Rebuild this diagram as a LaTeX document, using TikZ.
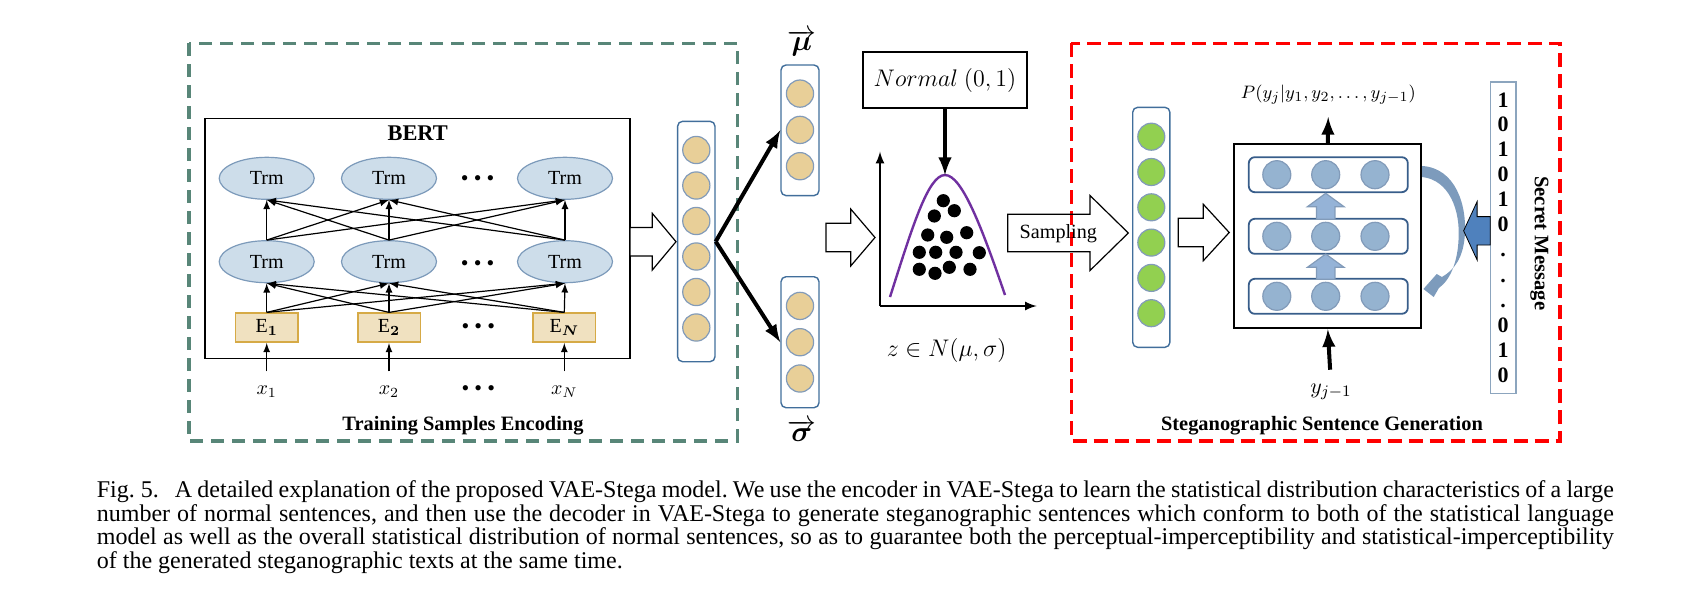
\documentclass[tikz,border=0pt]{standalone}
\usepackage{fontspec}
\setmainfont{Liberation Serif}
\usepackage{bm}
\usetikzlibrary{positioning,shapes.geometric}

\definecolor{encframe}{RGB}{88,134,120}
\definecolor{trmfill}{RGB}{205,221,234}
\definecolor{trmdraw}{RGB}{124,154,186}
\definecolor{efill}{RGB}{240,225,192}
\definecolor{edraw}{RGB}{214,170,70}
\definecolor{tanfill}{RGB}{232,207,152}
\definecolor{circdraw}{RGB}{130,155,185}
\definecolor{coldraw}{RGB}{65,110,155}
\definecolor{latfill}{RGB}{146,208,80}
\definecolor{decfill}{RGB}{149,179,208}
\definecolor{rowdraw}{RGB}{56,93,138}
\definecolor{upfill}{RGB}{149,179,215}
\definecolor{secblue}{RGB}{79,129,189}
\definecolor{bellpurple}{RGB}{112,48,160}
\definecolor{secdraw}{RGB}{140,165,190}
\definecolor{curvecol}{RGB}{125,155,188}

\newcommand{\blockarrow}[7][]{\draw[#1] (#2,#5-#6) -- (#3,#5-#6) -- (#3,#5-#7) -- (#4,#5) -- (#3,#5+#7) -- (#3,#5+#6) -- (#2,#5+#6) -- cycle;}

\begin{document}
\begin{tikzpicture}[x=0.5pt, y=-0.5pt, >=latex,
	every node/.style={inner sep=0pt},
	trm/.style={ellipse, draw=trmdraw, fill=trmfill, line width=0.6pt, minimum width=47.5pt, minimum height=21pt, font=\fontsize{10}{12}\selectfont},
	emb/.style={draw=edraw, fill=efill, line width=0.8pt, minimum width=31.3pt, minimum height=14.5pt, font=\fontsize{10}{12}\selectfont},
	colbox/.style={draw=coldraw, rounded corners=2.5pt, line width=0.7pt},
	neuron/.style={circle, draw=circdraw, line width=0.6pt, minimum size=13.6pt},
	layerrow/.style={draw=rowdraw, rounded corners=3pt, line width=0.9pt, minimum width=79.5pt, minimum height=17.5pt},
	ellip/.style={font=\fontsize{11}{12}\selectfont},
	thinarrow/.style={->, line width=0.6pt},
	thickarrow/.style={->, line width=2pt},
	blockarr/.style={draw=black, line width=0.6pt},
	caption title/.style={font=\bfseries\fontsize{10.2}{12}\selectfont},
	bit/.style={anchor=base, font=\bfseries\fontsize{11}{12}\selectfont}]

\useasboundingbox (0,0) rectangle (1681,605);

\draw[encframe, line width=1.6pt, dash pattern=on 6.5pt off 4pt] (189,43.3) rectangle (737.3,441);
\draw[red, line width=1.6pt, dash pattern=on 7pt off 3.5pt] (1071.4,43.3) rectangle (1560,441);

\node[draw, line width=0.8pt, minimum width=212.5pt, minimum height=120pt] (bert) at (417.5,238.3) {};
\node[font=\bfseries\fontsize{11.2}{13}\selectfont] (bertlabel) at (417.7,133.3) {BERT};
\node[trm] (t1) at (266.7,178.3) {Trm};
\node[trm] (t2) at (389,178.3) {Trm};
\node[trm] (t3) at (565,178.3) {Trm};
\node[trm] (b1) at (266.7,261.7) {Trm};
\node[trm] (b2) at (389,261.7) {Trm};
\node[trm] (b3) at (565,261.7) {Trm};
\node[emb] (e1) at (266.7,327.7) {E$_{\bm{1}}$};
\node[emb] (e2) at (389,327.7) {E$_{\bm{2}}$};
\node[emb] (e3) at (564.3,327.7) {E$_{\bm{N}}$};
\node[font=\fontsize{10}{12}\selectfont] (x1) at (266.7,391.7) {$x_1$};
\node[font=\fontsize{10}{12}\selectfont] (x2) at (389,391.7) {$x_2$};
\node[font=\fontsize{10}{12}\selectfont] (x3) at (564.3,391.7) {$x_N$};
\node[ellip] (dt) at (477.7,181) {\textbullet\hspace{2.6pt}\textbullet\hspace{2.6pt}\textbullet};
\node[ellip] (db) at (477.7,265.3) {\textbullet\hspace{2.6pt}\textbullet\hspace{2.6pt}\textbullet};
\node[ellip] (de) at (478.3,328.3) {\textbullet\hspace{2.6pt}\textbullet\hspace{2.6pt}\textbullet};
\node[ellip] (dx) at (478.3,391) {\textbullet\hspace{2.6pt}\textbullet\hspace{2.6pt}\textbullet};
\foreach \i in {1,2,3}{
	\draw[thinarrow, shorten <=7pt] (x\i.north) -- (e\i.south);
	\foreach \j in {1,2,3}{
		\draw[thinarrow] (e\i.north) -- (b\j.south);
		\draw[thinarrow] (b\i.north) -- (t\j.south);
	}
}
\node[caption title] (enctitle) at (463,426) {Training Samples Encoding};

\blockarrow[blockarr, fill=white]{630}{652.3}{676}{241.7}{14.2}{28.3}

\node[colbox, minimum width=18.7pt, minimum height=120.2pt] (enc) at (696.3,241.5) {};
\foreach \i in {1,...,6} \node[neuron, fill=tanfill] (enc\i) at (696.3,{150+35.5*(\i-1)}) {};

\node[colbox, minimum width=19pt, minimum height=65.3pt] (mucol) at (800,130.3) {};
\node[colbox, minimum width=19pt, minimum height=65.5pt] (sigcol) at (800,342.2) {};
\foreach \i in {1,2,3}{
	\node[neuron, fill=tanfill] (mu\i) at (800,{93.6+36.3*(\i-1)}) {};
	\node[neuron, fill=tanfill] (sig\i) at (800,{305.9+36.3*(\i-1)}) {};
}
\node[font=\fontsize{14}{16}\selectfont] (mulabel) at (801.7,43) {$\overrightarrow{\bm{\mu}}$};
\node[font=\fontsize{14}{16}\selectfont] (siglabel) at (801.7,431) {$\overrightarrow{\bm{\sigma}}$};
\draw[thickarrow] (enc.east) -- (mucol.west);
\draw[thickarrow] (enc.east) -- (sigcol.west);

\blockarrow[blockarr, fill=white]{826}{850.7}{875}{237.5}{14.2}{28.5}

\node[draw, line width=1pt, minimum width=81.7pt, minimum height=28.3pt, font=\fontsize{12}{14}\selectfont] (normal) at (945,80) {$Normal\ (0,1)$};
\coordinate (origin) at (880,306);
\coordinate (ytop) at (880,151.7);
\coordinate (xend) at (1036.7,306);
\coordinate (peak) at (945,175);
\draw[->, line width=1pt] (origin) -- (ytop);
\draw[->, line width=1pt] (origin) -- (xend);
\draw[bellpurple, line width=1.2pt] (890,297) .. controls (912,228) and (928,175) .. (peak) .. controls (962,175) and (982,228) .. (1005,295);
\foreach \px/\py in {943.3/200.7, 954.3/210.7, 934.3/216, 927.7/235, 946.7/237.3, 966.7/232.7, 919.3/252.3, 935.7/252.3, 956/252.3, 979.3/252.7, 919.3/269.3, 935/273.3, 949.3/267.3, 970/269.3}
	\fill (\px,\py) circle (3.3pt);
\draw[thickarrow] (normal.south) -- (peak);
\node[font=\fontsize{12.5}{14}\selectfont] (zlabel) at (946.7,350) {$z\in N(\mu,\sigma)$};

\blockarrow[blockarr]{1007.7}{1090}{1128.3}{233}{18.7}{37.5}
\node[font=\fontsize{10.1}{12}\selectfont] (sampling) at (1058.3,233.3) {Sampling};

\node[colbox, minimum width=18.6pt, minimum height=120pt] (lat) at (1151.3,227.3) {};
\foreach \i in {1,...,6} \node[neuron, fill=latfill, minimum size=13.5pt] (lat\i) at (1151.3,{136.7+35.3*(\i-1)}) {};

\blockarrow[blockarr, fill=white]{1178.2}{1203.3}{1229.2}{232.5}{14.2}{28.2}

\node[draw, line width=1pt, minimum width=93.4pt, minimum height=92pt] (dec) at (1327.8,236.3) {};
\node[layerrow] (r1) at (1328.3,174.7) {};
\node[layerrow] (r2) at (1328.3,236.3) {};
\node[layerrow] (r3) at (1328.3,296.3) {};
\foreach \r/\ry in {1/174.7, 2/236.3, 3/296.3}
	\foreach \c/\cx in {1/1276.8, 2/1325.7, 3/1375}
		\node[neuron, fill=decfill, minimum size=14pt] (h\r\c) at (\cx,\ry) {};
\foreach \yb/\yh/\yt in {279.3/267.3/254, 219.3/206.7/193.3}
	\draw[fill=upfill, draw=circdraw, line width=0.6pt] (1316.5,\yb) -- (1316.5,\yh) -- (1307.4,\yh) -- (1325.7,\yt) -- (1344,\yh) -- (1334.9,\yh) -- (1334.9,\yb) -- cycle;
\node[font=\fontsize{9.5}{12}\selectfont] (plabel) at (1328.4,95) {$P(y_j|y_1,y_2,\ldots,y_{j-1})$};
\node[font=\fontsize{11}{13}\selectfont] (ylabel) at (1330.9,392) {$y_{j-1}$};
\draw[thickarrow, shorten >=6pt] (dec.north) -- (plabel.south);
\draw[thickarrow, shorten <=7pt] (ylabel.north) -- (dec.south);

\fill[curvecol] (1422.2,166) .. controls (1455.3,168) and (1467.7,205) .. (1464.6,238) .. controls (1462.6,258) and (1454.3,270) .. (1441.9,277) -- (1436.7,274) -- (1423.4,289) -- (1433.7,297) -- (1438.9,288) .. controls (1450.2,280) and (1457.5,262) .. (1458.5,240) .. controls (1460.6,210) and (1449.1,180) .. (1422.2,177) -- cycle;

\node[draw=secdraw, line width=0.8pt, minimum width=12.8pt, minimum height=155.8pt] (sec) at (1503.1,237.5) {};
\foreach \b/\by in {1/107.5, 0/131.8, 1/156.5, 0/181.8, 1/206.8, 0/231.8, ./256, ./282, ./307, 0/332.5, 1/357.5, 0/382.5}
	\node[bit] at (1503.1,\by) {\b};
\blockarrow[fill=secblue]{1490.2}{1477.1}{1463.6}{230.8}{14.2}{29.2}
\node[rotate=-90, font=\bfseries\fontsize{10.3}{12}\selectfont] (seclabel) at (1539.3,243.3) {Secret Message};
\node[caption title] (dectitle) at (1322,426) {Steganographic Sentence Generation};

\node[anchor=north west, align=left, font=\fontsize{12}{11.8}\selectfont\frenchspacing] (caption) at (96.5,480.3) {%
\makebox[758.5pt][s]{Fig.\hspace{3pt}5.\hspace{8pt}A detailed explanation of the proposed VAE-Stega model. We use the encoder in VAE-Stega to learn the statistical distribution characteristics of a large}\\
\makebox[758.5pt][s]{number of normal sentences, and then use the decoder in VAE-Stega to generate steganographic sentences which conform to both of the statistical language}\\
\makebox[758.5pt][s]{model as well as the overall statistical distribution of normal sentences, so as to guarantee both the perceptual-imperceptibility and statistical-imperceptibility}\\
of the generated steganographic texts at the same time.};
\end{tikzpicture}
\end{document}
